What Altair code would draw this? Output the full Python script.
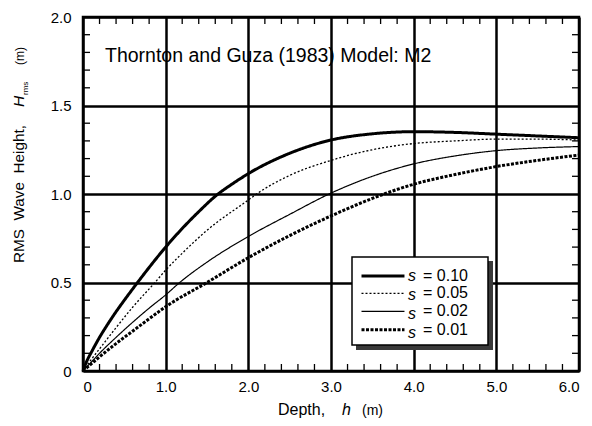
import altair as alt
import pandas as pd

# ---- data ----
series_labels = ["0.10", "0.05", "0.02", "0.01"]

h_s010 = [0, 0.05, 0.1, 0.2, 0.3, 0.4, 0.5, 0.66, 0.8, 1.0, 1.2, 1.4, 1.62, 1.8, 2.0, 2.5, 3.0, 3.5, 4.0, 4.5, 5.0, 5.5, 6.0]
H_s010 = [0, 0.06, 0.105, 0.19, 0.265, 0.335, 0.40, 0.50, 0.585, 0.70, 0.805, 0.90, 0.995, 1.055, 1.115, 1.23, 1.305, 1.34, 1.352, 1.348, 1.338, 1.328, 1.318]

h_s005 = [0, 0.1, 0.2, 0.4, 0.6, 0.87, 1.0, 1.2, 1.5, 2.0, 2.1, 2.5, 3.0, 3.5, 4.0, 4.5, 5.0, 5.5, 6.0]
H_s005 = [0, 0.065, 0.125, 0.245, 0.36, 0.50, 0.57, 0.665, 0.795, 0.966, 1.0, 1.105, 1.19, 1.25, 1.285, 1.30, 1.31, 1.31, 1.305]

h_s002 = [0, 0.1, 0.2, 0.4, 0.6, 0.8, 1.0, 1.17, 1.5, 2.0, 2.5, 3.0, 3.5, 4.0, 4.5, 5.0, 5.5, 6.0]
H_s002 = [0, 0.05, 0.10, 0.19, 0.275, 0.355, 0.43, 0.50, 0.615, 0.76, 0.885, 1.005, 1.10, 1.17, 1.215, 1.245, 1.26, 1.268]

h_s001 = [0, 0.1, 0.2, 0.4, 0.6, 0.8, 1.0, 1.5, 2.0, 2.5, 3.0, 3.5, 4.0, 4.5, 5.0, 5.5, 6.0]
H_s001 = [0, 0.04, 0.08, 0.155, 0.225, 0.295, 0.363, 0.50, 0.64, 0.765, 0.876, 0.975, 1.055, 1.11, 1.155, 1.19, 1.22]

x_major = [0, 1, 2, 3, 4, 5, 6]
y_major = [0, 0.5, 1.0, 1.5, 2.0]
x_minor = [0.2, 0.4, 0.6, 0.8, 1.2, 1.4, 1.6, 1.8, 2.2, 2.4, 2.6, 2.8, 3.2, 3.4, 3.6, 3.8,
           4.2, 4.4, 4.6, 4.8, 5.2, 5.4, 5.6, 5.8]
y_minor = [0.1, 0.2, 0.3, 0.4, 0.6, 0.7, 0.8, 0.9, 1.1, 1.2, 1.3, 1.4, 1.6, 1.7, 1.8, 1.9]

title_text = "Thornton and Guza (1983) Model: M2"

# ---- build tables ----
rows = []
for lab, hs, Hs in zip(series_labels, [h_s010, h_s005, h_s002, h_s001], [H_s010, H_s005, H_s002, H_s001]):
    for h, H in zip(hs, Hs):
        rows.append({"h": h, "H": H, "s": lab})
df = pd.DataFrame(rows)
xminor_df = pd.DataFrame({"v": x_minor})
yminor_df = pd.DataFrame({"v": y_minor})

FONT = "Liberation Sans"
W, H = 496, 354

xs = alt.Scale(domain=[0, 6], nice=False, zero=False)
ys = alt.Scale(domain=[0, 2], nice=False, zero=False)
lab_expr = "datum.value == 0 ? '0' : format(datum.value, '.1f')"

main_x_axis = alt.Axis(orient="bottom", values=x_major, labelExpr=lab_expr, grid=True,
                       gridColor="black", gridWidth=2.5, gridOpacity=1, domain=False,
                       ticks=False, tickSize=0, labelFont=FONT, labelFontSize=15,
                       labelColor="black", labelPadding=8, title=None)
main_y_axis = alt.Axis(orient="left", values=y_major, labelExpr=lab_expr, grid=True,
                       gridColor="black", gridWidth=2.5, gridOpacity=1, domain=False,
                       ticks=False, tickSize=0, labelFont=FONT, labelFontSize=15,
                       labelColor="black", labelPadding=12, title=None)

legend = alt.Legend(orient="none", legendX=269, legendY=242, title=None, padding=8,
                    symbolType="M-1,0H4.73", symbolSize=225, symbolStrokeColor="black",
                    symbolFillColor="transparent",
                    labelFont=FONT, labelFontSize=16, labelColor="black",
                    labelOffset=45, rowPadding=0.9,
                    labelExpr="'= ' + datum.label")

lines = alt.Chart(df).mark_line(color="black", interpolate="monotone").encode(
    x=alt.X("h:Q", scale=xs, axis=main_x_axis),
    y=alt.Y("H:Q", scale=ys, axis=main_y_axis),
    strokeDash=alt.StrokeDash("s:N", scale=alt.Scale(type="ordinal", domain=series_labels,
                              range=[[1, 0], [2, 2], [1, 0], [3, 1.5]]), legend=legend),
    strokeWidth=alt.StrokeWidth("s:N", scale=alt.Scale(type="ordinal", domain=series_labels,
                                range=[3, 1.3, 1.2, 3]), legend=legend),
    order=alt.Order("h:Q"),
)

# inward minor ticks on all four sides
TL = 7
tick_style = dict(color="black", thickness=1.3, size=TL, opacity=1)
ticks_bottom = alt.Chart(xminor_df).mark_tick(orient="vertical", **tick_style).encode(
    x=alt.X("v:Q", scale=xs), y=alt.value(H - TL / 2))
ticks_top = alt.Chart(xminor_df).mark_tick(orient="vertical", **tick_style).encode(
    x=alt.X("v:Q", scale=xs), y=alt.value(TL / 2))
ticks_left = alt.Chart(yminor_df).mark_tick(orient="horizontal", **tick_style).encode(
    y=alt.Y("v:Q", scale=ys), x=alt.value(TL / 2))
ticks_right = alt.Chart(yminor_df).mark_tick(orient="horizontal", **tick_style).encode(
    y=alt.Y("v:Q", scale=ys), x=alt.value(W - TL / 2))

one = pd.DataFrame({"k": [0]})

# legend frame with drop shadow
shadow = alt.Chart(one).mark_rect(color="#3a3a3a").encode(
    x=alt.value(273), x2=alt.value(410), y=alt.value(244), y2=alt.value(333))
box = alt.Chart(one).mark_rect(fill="white", stroke="black", strokeWidth=1.5).encode(
    x=alt.value(269), x2=alt.value(405), y=alt.value(240), y2=alt.value(328))

def txt(text, x, y, size, style="normal", angle=0, align="left"):
    return alt.Chart(one).mark_text(text=text, font=FONT, fontSize=size, fontStyle=style,
                                    angle=angle, align=align, baseline="alphabetic",
                                    color="black").encode(x=alt.value(x), y=alt.value(y))

texts = [
    txt(title_text, 22, 45, 19.5),
    txt("Depth,", 195, 398, 16),
    txt("h", 259, 398, 16, "italic"),
    txt("(m)", 279, 398, 14),
    txt("RMS\u00a0\u00a0Wave\u00a0\u00a0Height,", -59, 246, 15.3, angle=270),
    txt("H", -59, 90, 15.5, "italic", angle=270),
    txt("rms", -55.5, 78, 8, angle=270),
    txt("(m)", -59, 48, 12, angle=270),
]
s_marks = [txt("s", 325, 264 + i * 18.9, 16, "italic") for i in range(4)]

chart = alt.layer(lines, ticks_bottom, ticks_top, ticks_left, ticks_right,
                  shadow, box, *texts, *s_marks).properties(
    width=W, height=H,
    autosize=alt.AutoSizeParams(type="none"),
    padding={"left": 75, "top": 9, "right": 5, "bottom": 47},
).configure_view(stroke="black", strokeWidth=2.5)

chart.save("out.html", embed_options={"renderer": "svg", "actions": False})
